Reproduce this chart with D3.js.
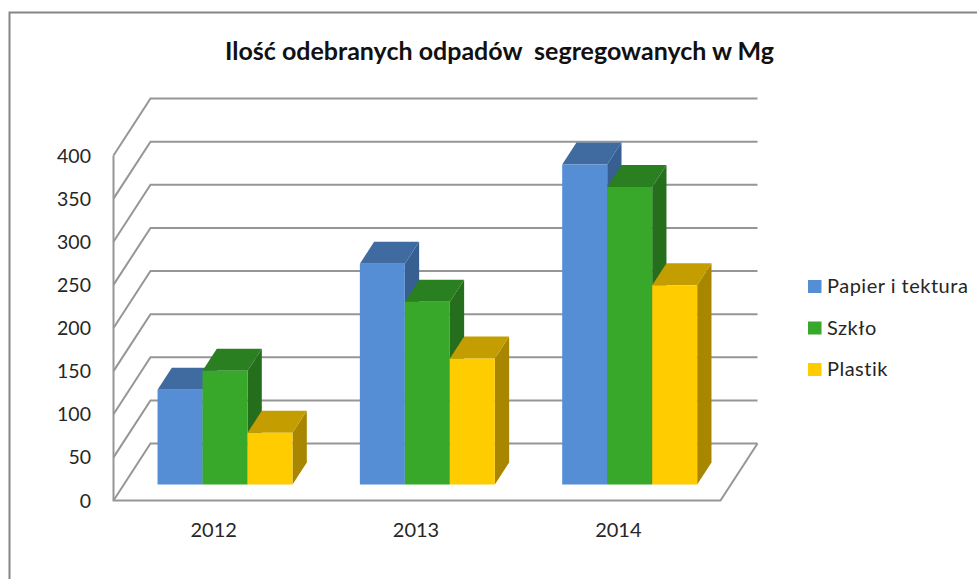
<!DOCTYPE html>
<html>
<head>
<meta charset="utf-8">
<script src="https://cdn.jsdelivr.net/npm/d3@7"></script>
<style>
	html, body { margin: 0; padding: 0; background: #fff; overflow: hidden; }
	text { font-family: Lato, "Open Sans", sans-serif; fill: #262626; white-space: pre; }
</style>
</head>
<body>
<div id="chart"></div>
<script>
const years = ["2012", "2013", "2014"];
const seriesNames = ["Papier i tektura", "Szkło", "Plastik"];
const papier = [110, 256, 371];
const szklo = [132, 212, 345];
const plastik = [60, 146, 231];
const seriesValues = [papier, szklo, plastik];
const yTicks = [0, 50, 100, 150, 200, 250, 300, 350, 400];

const frontColors = ["#558ed5", "#38a82b", "#ffcc00"];
const topColors = ["#3f6ba1", "#2a7f20", "#c49d00"];
const sideColors = ["#375f91", "#256e1b", "#a88600"];
const gridColor = "#969696";

const width = 977, height = 579;

const svg = d3.select("#chart")
	.append("svg")
	.attr("width", width)
	.attr("height", height);

// front plane scales, depth just shifts things up and to the right
const x = d3.scaleBand().domain(years).range([113.5, 720.5]);
const y = d3.scaleLinear().domain([0, 400]).range([500.5, 155.5]);
const depthX = d3.scaleLinear().domain([0, 1]).range([0, 37]);
const depthY = d3.scaleLinear().domain([0, 1]).range([0, -57]);

const px = (xPos, depth) => xPos + depthX(depth);
const py = (value, depth) => y(value) + depthY(depth);
const poly = pts => d3.line()(pts);

// outer frame, open at right and bottom like the cropped screenshot
svg.append("path")
	.attr("d", "M9.5,579V12.5H977")
	.attr("fill", "none")
	.attr("stroke", "#868686")
	.attr("stroke-width", 2);

// Add title
svg.append("text")
	.attr("x", 499.5)
	.attr("y", 60)
	.attr("text-anchor", "middle")
	.style("font-size", "25px")
	.style("font-weight", "bold")
	.style("fill", "#111")
	.text("Ilość odebranych odpadów  segregowanych w Mg");

// walls and floor
const grid = svg.append("g")
	.attr("fill", "none")
	.attr("stroke", gridColor)
	.attr("stroke-width", 2);

grid.selectAll("path.wall")
	.data(yTicks)
	.join("path")
	.attr("class", "wall")
	.attr("d", d => poly([[px(113.5, 0), py(d, 0)], [px(113.5, 1), py(d, 1)], [px(720.5, 1), py(d, 1)]]));

grid.append("path")
	.attr("d", poly([[113.5, y(400)], [113.5, y(0)], [720.5, y(0)], [px(720.5, 1), py(0, 1)]]));

// Add y axis labels
svg.append("g")
	.selectAll("text")
	.data(yTicks)
	.join("text")
	.attr("x", 91)
	.attr("y", d => y(d) + 7)
	.attr("text-anchor", "end")
	.style("font-size", "19.5px")
	.text(d => d);

// Add x axis labels
svg.append("g")
	.selectAll("text")
	.data(years)
	.join("text")
	.attr("x", d => x(d) + x.bandwidth() / 2 - 1)
	.attr("y", 537)
	.attr("text-anchor", "middle")
	.style("font-size", "20px")
	.text(d => d);

// Add bars, the boxes sit in the middle of the floor depth
const groupWidth = 135;
const d0 = 0.28, d1 = d0 + 22 / 57;
const inner = d3.scaleBand()
	.domain(d3.range(seriesNames.length))
	.range([0, groupWidth]);
const barLeft = (year, i) => x(year) + (x.bandwidth() - groupWidth) / 2 + inner(i);

const bars = [];
years.forEach((year, c) => {
	seriesValues.forEach((vals, s) => {
		bars.push({year: year, s: s, value: vals[c]});
	});
});

const barG = svg.append("g")
	.selectAll("g")
	.data(bars)
	.join("g");

// side
barG.append("path")
	.attr("fill", d => sideColors[d.s])
	.attr("d", d => {
		const r = barLeft(d.year, d.s) + inner.bandwidth();
		return poly([[px(r, d0), py(0, d0)], [px(r, d1), py(0, d1)], [px(r, d1), py(d.value, d1)], [px(r, d0), py(d.value, d0)]]) + "Z";
	});

// top
barG.append("path")
	.attr("fill", d => topColors[d.s])
	.attr("d", d => {
		const l = barLeft(d.year, d.s), r = l + inner.bandwidth();
		return poly([[px(l, d0), py(d.value, d0)], [px(l, d1), py(d.value, d1)], [px(r, d1), py(d.value, d1)], [px(r, d0), py(d.value, d0)]]) + "Z";
	});

// front
barG.append("path")
	.attr("fill", d => frontColors[d.s])
	.attr("d", d => {
		const l = barLeft(d.year, d.s), r = l + inner.bandwidth();
		return poly([[px(l, d0), py(0, d0)], [px(l, d0), py(d.value, d0)], [px(r, d0), py(d.value, d0)], [px(r, d0), py(0, d0)]]) + "Z";
	});

// Add legend
const legend = svg.append("g")
	.selectAll("g")
	.data(seriesNames)
	.join("g")
	.attr("transform", (d, i) => `translate(808,${286 + i * 41.5})`);

legend.append("rect")
	.attr("x", 0)
	.attr("y", -6)
	.attr("width", 13.5)
	.attr("height", 13)
	.attr("fill", (d, i) => frontColors[i]);

legend.append("text")
	.attr("x", 19)
	.attr("y", 7)
	.style("font-size", "20px")
	.style("letter-spacing", "0.5px")
	.text(d => d);
</script>
</body>
</html>
